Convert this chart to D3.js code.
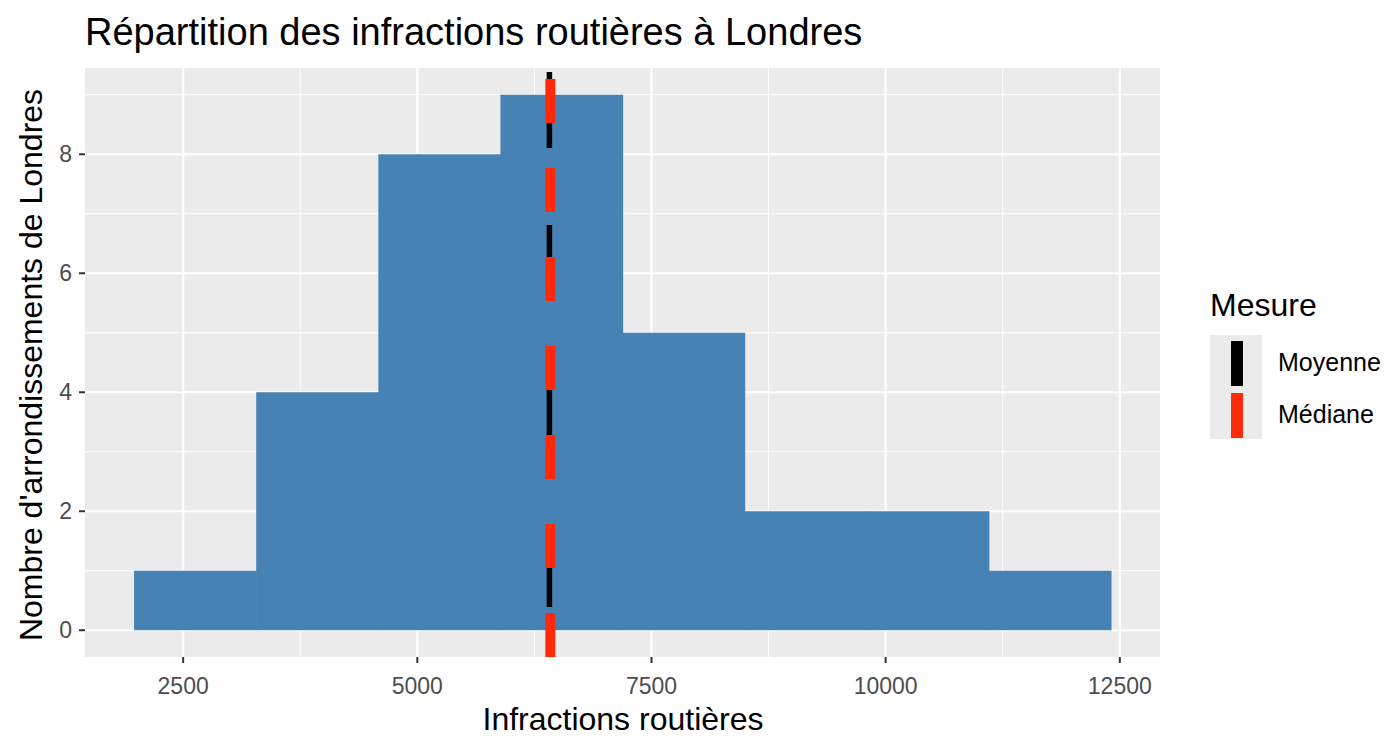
<!DOCTYPE html>
<html><head><meta charset="utf-8">
<script src="https://cdn.jsdelivr.net/npm/d3@7"></script>
<style>body{margin:0;background:#fff;font-family:Arial,"Liberation Sans",sans-serif}</style>
</head><body>
<script>
// données
var binEdges = [1976, 3280, 4584, 5887, 7191, 8494, 9798, 11101, 12405];
var counts = [1, 4, 8, 9, 5, 2, 2, 1];
var xTicks = [2500, 5000, 7500, 10000, 12500];
var yTicks = [0, 2, 4, 6, 8];
var meanValue = 6410;
var medianValue = 6420;
var legendLabels = ["Moyenne", "Médiane"];

var W = 1397, H = 752;
var svg = d3.select("body").append("svg").attr("width", W).attr("height", H);

var x = d3.scaleLinear().domain([1452, 12929]).range([85, 1160]);
var y = d3.scaleLinear().domain([-0.45, 9.45]).range([657, 68]);

// panneau
svg.append("rect").attr("x", 85).attr("y", 68).attr("width", 1075).attr("height", 589).attr("fill", "#ebebeb");

// grille mineure
var xMinor = d3.range(0, xTicks.length - 1).map(function (i) { return (xTicks[i] + xTicks[i + 1]) / 2; });
var yMinor = [1, 3, 5, 7, 9];
svg.append("g").selectAll("line").data(xMinor).enter().append("line")
    .attr("x1", function (d) { return x(d); }).attr("x2", function (d) { return x(d); })
    .attr("y1", 68).attr("y2", 657).attr("stroke", "#fff").attr("stroke-width", 1);
svg.append("g").selectAll("line").data(yMinor).enter().append("line")
    .attr("y1", function (d) { return y(d); }).attr("y2", function (d) { return y(d); })
    .attr("x1", 85).attr("x2", 1160).attr("stroke", "#fff").attr("stroke-width", 1);
// grille majeure
svg.append("g").selectAll("line").data(xTicks).enter().append("line")
    .attr("x1", function (d) { return x(d); }).attr("x2", function (d) { return x(d); })
    .attr("y1", 68).attr("y2", 657).attr("stroke", "#fff").attr("stroke-width", 2.2);
svg.append("g").selectAll("line").data(yTicks).enter().append("line")
    .attr("y1", function (d) { return y(d); }).attr("y2", function (d) { return y(d); })
    .attr("x1", 85).attr("x2", 1160).attr("stroke", "#fff").attr("stroke-width", 2.2);

// barres
svg.append("g").selectAll("rect").data(counts).enter().append("rect")
    .attr("x", function (d, i) { return x(binEdges[i]); })
    .attr("width", function (d, i) { return x(binEdges[i + 1]) - x(binEdges[i]) + 0.6; })
    .attr("y", function (d) { return y(d); })
    .attr("height", function (d) { return y(0) - y(d); })
    .attr("fill", "#4682b4");

// lignes moyenne / médiane
svg.append("line").attr("x1", x(meanValue)).attr("x2", x(meanValue)).attr("y1", 72).attr("y2", 657)
    .attr("stroke", "#000").attr("stroke-width", 5.5).attr("stroke-dasharray", "76,77");
svg.append("line").attr("x1", x(medianValue)).attr("x2", x(medianValue)).attr("y1", 79).attr("y2", 657)
    .attr("stroke", "#ff2a0a").attr("stroke-width", 10).attr("stroke-dasharray", "44,45");

// axes
var tickCol = "#333", txtCol = "#4d4d4d";
var gx = svg.append("g");
xTicks.forEach(function (t) {
    gx.append("line").attr("x1", x(t)).attr("x2", x(t)).attr("y1", 657).attr("y2", 663).attr("stroke", tickCol).attr("stroke-width", 2);
    gx.append("text").attr("x", x(t)).attr("y", 694).attr("text-anchor", "middle")
        .attr("font-size", 23).attr("fill", txtCol).text(t);
});
var gy = svg.append("g");
yTicks.forEach(function (t) {
    gy.append("line").attr("x1", 79).attr("x2", 85).attr("y1", y(t)).attr("y2", y(t)).attr("stroke", tickCol).attr("stroke-width", 2);
    gy.append("text").attr("x", 72).attr("y", y(t) + 8).attr("text-anchor", "end")
        .attr("font-size", 23).attr("fill", txtCol).text(t);
});

svg.append("text").attr("x", 623).attr("y", 730).attr("text-anchor", "middle").attr("font-size", 32).text("Infractions routières");
svg.append("text").attr("transform", "translate(42,365) rotate(-90)").attr("text-anchor", "middle").attr("font-size", 32).text("Nombre d'arrondissements de Londres");
svg.append("text").attr("x", 85).attr("y", 45).attr("font-size", 38).text("Répartition des infractions routières à Londres");

// légende
var lg = svg.append("g");
lg.append("text").attr("x", 1210).attr("y", 316).attr("font-size", 32).text("Mesure");
lg.append("rect").attr("x", 1210).attr("y", 335).attr("width", 52).attr("height", 104).attr("fill", "#ebebeb");
var keyCol = ["#000", "#ff2a0a"];
legendLabels.forEach(function (l, i) {
    lg.append("rect").attr("x", 1231).attr("y", 341 + i * 52).attr("width", 12).attr("height", 45).attr("fill", keyCol[i]);
    lg.append("text").attr("x", 1278).attr("y", 371 + i * 52).attr("font-size", 25).text(l);
});
</script>
</body></html>
